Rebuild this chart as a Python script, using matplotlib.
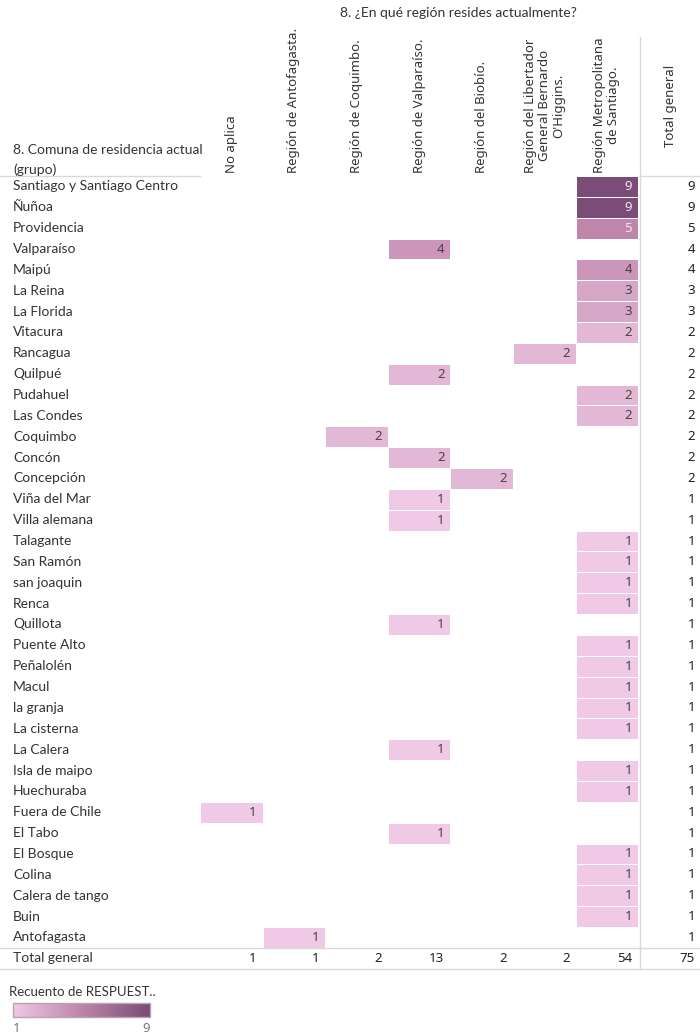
import numpy as np
import matplotlib
matplotlib.use("Agg")
import matplotlib.pyplot as plt
from matplotlib.colors import LinearSegmentedColormap

comunas = ["Santiago y Santiago Centro", "Ñuñoa", "Providencia", "Valparaíso", "Maipú",
           "La Reina", "La Florida", "Vitacura", "Rancagua", "Quilpué", "Pudahuel",
           "Las Condes", "Coquimbo", "Concón", "Concepción", "Viña del Mar",
           "Villa alemana", "Talagante", "San Ramón", "san joaquin", "Renca", "Quillota",
           "Puente Alto", "Peñalolén", "Macul", "la granja", "La cisterna", "La Calera",
           "Isla de maipo", "Huechuraba", "Fuera de Chile", "El Tabo", "El Bosque",
           "Colina", "Calera de tango", "Buin", "Antofagasta"]

regiones = ["No aplica", "Región de Antofagasta.", "Región de Coquimbo.",
            "Región de Valparaíso.", "Región del Biobío.",
            "Región del Libertador\nGeneral Bernardo\nO'Higgins.",
            "Región Metropolitana\nde Santiago."]

# recuento por comuna (filas) y región (columnas)
recuento = np.array([
    [0, 0, 0, 0, 0, 0, 9],
    [0, 0, 0, 0, 0, 0, 9],
    [0, 0, 0, 0, 0, 0, 5],
    [0, 0, 0, 4, 0, 0, 0],
    [0, 0, 0, 0, 0, 0, 4],
    [0, 0, 0, 0, 0, 0, 3],
    [0, 0, 0, 0, 0, 0, 3],
    [0, 0, 0, 0, 0, 0, 2],
    [0, 0, 0, 0, 0, 2, 0],
    [0, 0, 0, 2, 0, 0, 0],
    [0, 0, 0, 0, 0, 0, 2],
    [0, 0, 0, 0, 0, 0, 2],
    [0, 0, 2, 0, 0, 0, 0],
    [0, 0, 0, 2, 0, 0, 0],
    [0, 0, 0, 0, 2, 0, 0],
    [0, 0, 0, 1, 0, 0, 0],
    [0, 0, 0, 1, 0, 0, 0],
    [0, 0, 0, 0, 0, 0, 1],
    [0, 0, 0, 0, 0, 0, 1],
    [0, 0, 0, 0, 0, 0, 1],
    [0, 0, 0, 0, 0, 0, 1],
    [0, 0, 0, 1, 0, 0, 0],
    [0, 0, 0, 0, 0, 0, 1],
    [0, 0, 0, 0, 0, 0, 1],
    [0, 0, 0, 0, 0, 0, 1],
    [0, 0, 0, 0, 0, 0, 1],
    [0, 0, 0, 0, 0, 0, 1],
    [0, 0, 0, 1, 0, 0, 0],
    [0, 0, 0, 0, 0, 0, 1],
    [0, 0, 0, 0, 0, 0, 1],
    [1, 0, 0, 0, 0, 0, 0],
    [0, 0, 0, 1, 0, 0, 0],
    [0, 0, 0, 0, 0, 0, 1],
    [0, 0, 0, 0, 0, 0, 1],
    [0, 0, 0, 0, 0, 0, 1],
    [0, 0, 0, 0, 0, 0, 1],
    [0, 1, 0, 0, 0, 0, 0],
])

total_fila = recuento.sum(axis=1)
total_col = recuento.sum(axis=0)
vmin, vmax = 1, 9

cmap = LinearSegmentedColormap.from_list("purpura", ["#efc9e6", "#bf85aa", "#7a4c77"])

TXT = "#333333"
LINE = "#d9d9d9"
etiqueta = dict(family=["Lato", "DejaVu Sans"], color=TXT)
numero = dict(family=["Noto Sans", "DejaVu Sans"])

fig = plt.figure(figsize=(7, 10.36), dpi=100)
ax = fig.add_axes([0, 0, 1, 1])
ax.set_xlim(0, 700)
ax.set_ylim(1036, 0)
ax.axis("off")

# geometría de la tabla (en píxeles)
x0, cw = 200, 62.6
y0, rh = 176, 20.86
nr, nc = recuento.shape
xe = x0 + cw * np.arange(nc + 1)
ye = y0 + rh * np.arange(nr + 1)
xdiv = xe[-1] + 2

ax.pcolormesh(xe, ye, np.ma.masked_equal(recuento, 0), cmap=cmap, vmin=vmin, vmax=vmax,
              edgecolors="white", linewidth=0.6)

for i in range(nr):
    yc = (ye[i] + ye[i + 1]) / 2
    ax.text(13, yc, comunas[i], ha="left", va="center", fontsize=10, **etiqueta)
    ax.text(695, yc, str(total_fila[i]), ha="right", va="center", fontsize=9.5,
            color="#222222", **numero)
    for j in range(nc):
        v = recuento[i, j]
        if v:
            c = "#f4e6f0" if v >= 5 else "#444444"
            ax.text(xe[j + 1] - 6, yc, str(v), ha="right", va="center", fontsize=9.5,
                    color=c, **numero)

# fila de totales
yt = ye[-1] + rh / 2
ax.text(13, yt, "Total general", ha="left", va="center", fontsize=10, **etiqueta)
for j in range(nc):
    ax.text(xe[j + 1] - 6, yt, str(total_col[j]), ha="right", va="center", fontsize=9.5,
            color="#222222", **numero)
ax.text(695, yt, str(total_fila.sum()), ha="right", va="center", fontsize=9.5,
        color="#222222", **numero)

ax.plot([0, 700], [ye[-1], ye[-1]], color=LINE, lw=1)
ax.plot([0, 700], [ye[-1] + rh, ye[-1] + rh], color=LINE, lw=1)
ax.plot([0, x0], [y0, y0], color=LINE, lw=1)
ax.plot([xdiv, 700], [y0, y0], color=LINE, lw=1)
ax.plot([xdiv, xdiv], [37, ye[-1] + rh], color=LINE, lw=1)

# encabezados
ax.text(458, 13, "8. ¿En qué región resides actualmente?", ha="center",
        va="center", fontsize=10, **etiqueta)
ax.text(13, 150, "8. Comuna de residencia actual", ha="left", va="center",
        fontsize=10, **etiqueta)
ax.text(13, 170, "(grupo)", ha="left", va="center", fontsize=10, **etiqueta)
for j, reg in enumerate(regiones):
    ax.text((xe[j] + xe[j + 1]) / 2, 173, reg, rotation=90, ha="center", va="bottom",
            multialignment="center", fontsize=9.5, color=TXT, linespacing=1.1, **numero)
ax.text((xdiv + 700) / 2, 106, "Total general", rotation=90, ha="center", va="center",
        fontsize=9.5, color=TXT, **numero)

# leyenda de color
ax.text(9, 992, "Recuento de RESPUEST..", ha="left", va="center", fontsize=9.5, **etiqueta)
grad = np.linspace(vmin, vmax, 256).reshape(1, -1)
ax.imshow(grad, cmap=cmap, vmin=vmin, vmax=vmax, aspect="auto",
          extent=(13, 150, 1017, 1003), zorder=2)
ax.add_patch(plt.Rectangle((13, 1003), 137, 14, fill=False, ec="#b5a5b2", lw=1, zorder=3))
ax.set_xlim(0, 700)
ax.set_ylim(1036, 0)
ax.text(13, 1029, str(vmin), ha="left", va="center", fontsize=9.5, color="#777777", **numero)
ax.text(150, 1029, str(vmax), ha="right", va="center", fontsize=9.5, color="#777777", **numero)

fig.savefig("out.png", dpi=100, facecolor="white")
